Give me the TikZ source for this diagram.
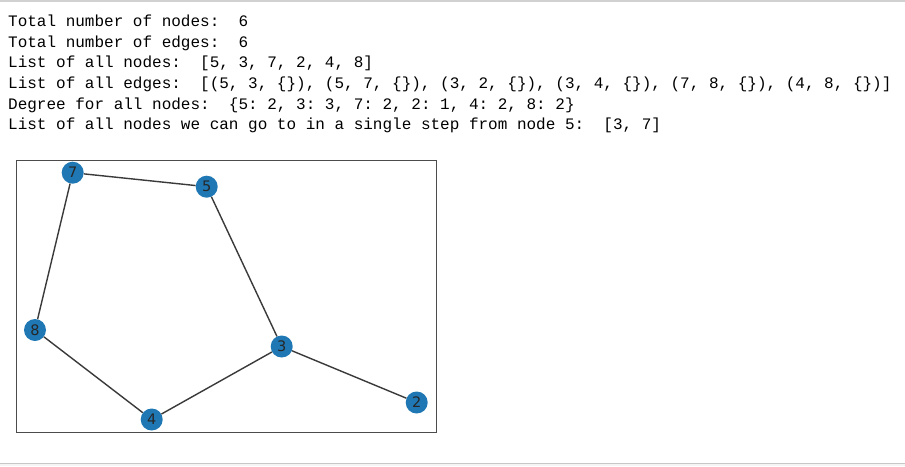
\documentclass[tikz,border=0pt]{standalone}
\usepackage{fontspec}
\setmonofont{Liberation Mono}
\newfontfamily\lblfont{DejaVu Sans}
\definecolor{mplblue}{HTML}{1F78B4}
\definecolor{edgegray}{HTML}{3A3A3A}
\begin{document}
\begin{tikzpicture}[x=1pt,y=-1pt,
  outtext/.style={anchor=base west,inner sep=0pt,font=\fontsize{16}{16}\selectfont\ttfamily},
  gnode/.style={circle,fill=mplblue,minimum size=22pt,inner sep=0pt,font=\fontsize{14.5}{14.5}\selectfont\lblfont,text=black!85},
  gedge/.style={draw=edgegray,line width=1.4pt}]
\useasboundingbox (0,0) rectangle (905,466);
\fill[white] (0,0) rectangle (905,466);
\fill[black!18] (0,0) rectangle (905,2);
\draw[black!22,line width=1.2pt] (0,463.5) -- (905,463.5);
\fill[black!4] (0,464.2) rectangle (905,466);
% text output
\node[outtext] (l1) at (8,26.5) {Total number of nodes:\ \ 6};
\node[outtext] (l2) at (8,47) {Total number of edges:\ \ 6};
\node[outtext] (l3) at (8,67.6) {List of all nodes:\ \ [5, 3, 7, 2, 4, 8]};
\node[outtext] (l4) at (8,88.3) {List of all edges:\ \ [(5, 3, \{\}), (5, 7, \{\}), (3, 2, \{\}), (3, 4, \{\}), (7, 8, \{\}), (4, 8, \{\})]};
\node[outtext] (l5) at (8,109) {Degree for all nodes:\ \ \{5: 2, 3: 3, 7: 2, 2: 1, 4: 2, 8: 2\}};
\node[outtext] (l6) at (8,129.7) {List of all nodes we can go to in a single step from node 5:\ \ [3, 7]};
% plot frame
\draw[black!70,line width=1pt] (16,160) rectangle (436,432.5);
% nodes
\node[gnode] (n7) at (72.7,172.7) {7};
\node[gnode] (n5) at (206.7,186.7) {5};
\node[gnode] (n8) at (35,330) {8};
\node[gnode] (n3) at (281.7,346.5) {3};
\node[gnode] (n2) at (416.7,402.5) {2};
\node[gnode] (n4) at (151.7,419.5) {4};
% edges
\path[gedge] (n5) -- (n3);
\path[gedge] (n5) -- (n7);
\path[gedge] (n3) -- (n2);
\path[gedge] (n3) -- (n4);
\path[gedge] (n7) -- (n8);
\path[gedge] (n4) -- (n8);
\end{tikzpicture}
\end{document}
